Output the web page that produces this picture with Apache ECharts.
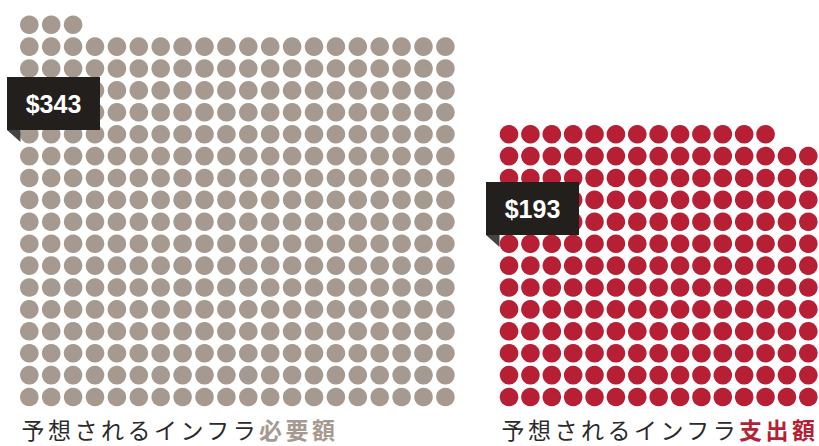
<!DOCTYPE html>
<html>
<head>
<meta charset="utf-8">
<script src="https://cdn.jsdelivr.net/npm/echarts@6/dist/echarts.min.js"></script>
<style>
  html, body { margin: 0; padding: 0; background: #ffffff; }
  #chart { width: 819px; height: 446px; }
</style>
</head>
<body>
<div id="chart"></div>
<script>
// Infrastructure: projected need vs projected spending (one dot per unit)
const captionPrefix = '予想されるインフラ';
const categories = ['必要額', '支出額'];
const values = [343, 193];

// layout of each dot block
const columnsPerRow = [20, 15];
const rowsShown = 18;
const pitch = 21.9;
const dotColors = ['#a69a90', '#b71f35'];
const blockLeft = [18.35, 498.35];
const gridTop = 13.75;

const grids = [], xAxes = [], yAxes = [], series = [];
categories.forEach((name, k) => {
  const cols = columnsPerRow[k];
  grids.push({ left: blockLeft[k], top: gridTop, width: cols * pitch, height: rowsShown * pitch });
  xAxes.push({ gridIndex: k, type: 'value', min: -0.5, max: cols - 0.5, show: false });
  yAxes.push({ gridIndex: k, type: 'value', min: -0.5, max: rowsShown - 0.5, show: false });
  const dots = [];
  for (let i = 0; i < values[k]; i++) dots.push([i % cols, Math.floor(i / cols)]);
  series.push({
    name: name, type: 'scatter', xAxisIndex: k, yAxisIndex: k,
    symbol: 'circle', symbolSize: 18.6, silent: true, clip: false,
    itemStyle: { color: dotColors[k], opacity: 1 },
    data: dots
  });
});

// value tags and captions
const tagPos = [[7, 77], [486, 182]];
const tagW = 93, tagH = 53;
const captionLeft = [21.5, 501.5];
const captionY = 431;
const captionSize = 23;
const charPitch = 26.4;
const captionFont = '"Liberation Sans", "Noto Sans CJK JP", sans-serif';
const graphic = [];
categories.forEach((name, k) => {
  const [x, y] = tagPos[k];
  graphic.push({
    type: 'polygon', z: 100,
    shape: { points: [[x, y + tagH], [x + 13.5, y + tagH], [x + 13.5, y + tagH + 12]] },
    style: { fill: '#46423f' }
  });
  graphic.push({
    type: 'rect', z: 101,
    shape: { x: x, y: y, width: tagW, height: tagH },
    style: { fill: '#231f1c' }
  });
  graphic.push({
    type: 'text', z: 102, x: x + tagW / 2, y: y + tagH / 2 + 0.5,
    style: {
      text: '$' + values[k], fill: '#ffffff',
      font: 'bold 25px "Liberation Sans", Arial, sans-serif',
      align: 'center', verticalAlign: 'middle'
    }
  });
  graphic.push({
    type: 'text', z: 102, x: captionLeft[k], y: captionY,
    style: {
      text: captionPrefix, fill: '#2b2b2b',
      font: 'normal ' + captionSize + 'px ' + captionFont,
      align: 'left', verticalAlign: 'middle'
    }
  });
  graphic.push({
    type: 'text', z: 102, x: captionLeft[k] + captionPrefix.length * charPitch, y: captionY,
    style: {
      text: name, fill: dotColors[k],
      font: 'bold ' + captionSize + 'px ' + captionFont,
      align: 'left', verticalAlign: 'middle'
    }
  });
});

const chart = echarts.init(document.getElementById('chart'), null, { renderer: 'svg' });
chart.setOption({
  animation: false,
  backgroundColor: '#ffffff',
  grid: grids,
  xAxis: xAxes,
  yAxis: yAxes,
  series: series,
  graphic: graphic
});

// spread the caption characters to an even pitch
const captionTexts = [captionPrefix].concat(categories);
document.querySelectorAll('#chart svg text').forEach(t => {
  const s = t.textContent;
  if (captionTexts.indexOf(s) >= 0) {
    t.setAttribute('textLength', (s.length * charPitch - (charPitch - captionSize)).toFixed(1));
    t.setAttribute('lengthAdjust', 'spacing');
  }
});
</script>
</body>
</html>
